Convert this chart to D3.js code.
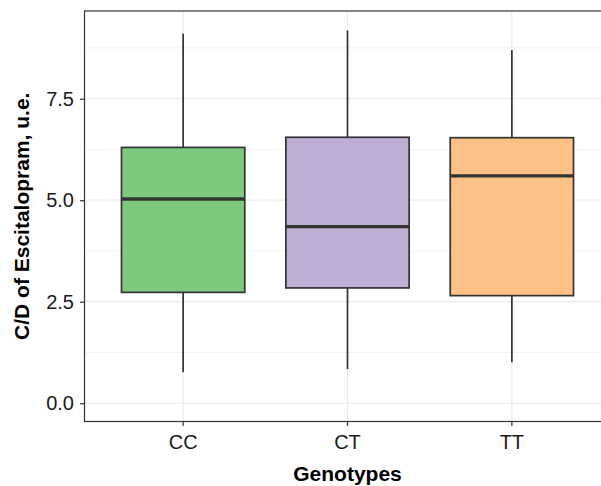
<!DOCTYPE html>
<html>
<head>
<meta charset="utf-8">
<script src="https://cdn.jsdelivr.net/npm/d3@7"></script>
<style>
  body { margin: 0; background: #fff; }
  text { font-family: "Liberation Sans", Arial, Helvetica, sans-serif; }
</style>
</head>
<body>
<div id="chart"></div>
<script>
const width = 601;
const height = 486;

// data
const genotypes = ["CC", "CT", "TT"];
const whiskerLow = [0.76, 0.84, 1.01];
const q1 = [2.73, 2.84, 2.65];
const medians = [5.03, 4.35, 5.6];
const q3 = [6.3, 6.55, 6.54];
const whiskerHigh = [9.1, 9.18, 8.7];
const fills = ["#7FC97F", "#BEAED4", "#FDC086"];
const yTicks = [0, 2.5, 5, 7.5];
const yMinor = [1.25, 3.75, 6.25, 8.75];

const panel = { left: 84.5, top: 11, right: 610.5, bottom: 421.5 };

const boxes = genotypes.map((g, i) => ({
	g,
	lo: whiskerLow[i],
	q1: q1[i],
	med: medians[i],
	q3: q3[i],
	hi: whiskerHigh[i],
	fill: fills[i]
}));

const x = d3
	.scaleBand()
	.domain(genotypes)
	.range([panel.left, panel.right])
	.paddingOuter(0.1)
	.paddingInner(0);

const y = d3
	.scaleLinear()
	.domain([-0.45, 9.66])
	.range([panel.bottom, panel.top]);

const svg = d3
	.select("#chart")
	.append("svg")
	.attr("width", width)
	.attr("height", height);

const cx = (g) => x(g) + x.bandwidth() / 2;
const boxW = x.bandwidth() * 0.75;

// grid
svg.append("g")
	.selectAll("line")
	.data(yMinor)
	.join("line")
	.attr("x1", panel.left)
	.attr("x2", panel.right)
	.attr("y1", (d) => y(d))
	.attr("y2", (d) => y(d))
	.attr("stroke", "#F3F3F3")
	.attr("stroke-width", 1);

svg.append("g")
	.selectAll("line")
	.data(yTicks)
	.join("line")
	.attr("x1", panel.left)
	.attr("x2", panel.right)
	.attr("y1", (d) => y(d))
	.attr("y2", (d) => y(d))
	.attr("stroke", "#EBEBEB")
	.attr("stroke-width", 1.2);

svg.append("g")
	.selectAll("line")
	.data(genotypes)
	.join("line")
	.attr("x1", (d) => cx(d))
	.attr("x2", (d) => cx(d))
	.attr("y1", panel.top)
	.attr("y2", panel.bottom)
	.attr("stroke", "#EBEBEB")
	.attr("stroke-width", 1.2);

// boxes
const bx = svg.append("g").selectAll("g").data(boxes).join("g");

bx.append("line")
	.attr("x1", (d) => cx(d.g))
	.attr("x2", (d) => cx(d.g))
	.attr("y1", (d) => y(d.hi))
	.attr("y2", (d) => y(d.q3))
	.attr("stroke", "#333")
	.attr("stroke-width", 1.7);

bx.append("line")
	.attr("x1", (d) => cx(d.g))
	.attr("x2", (d) => cx(d.g))
	.attr("y1", (d) => y(d.q1))
	.attr("y2", (d) => y(d.lo))
	.attr("stroke", "#333")
	.attr("stroke-width", 1.7);

bx.append("rect")
	.attr("x", (d) => cx(d.g) - boxW / 2)
	.attr("width", boxW)
	.attr("y", (d) => y(d.q3))
	.attr("height", (d) => y(d.q1) - y(d.q3))
	.attr("fill", (d) => d.fill)
	.attr("stroke", "#333")
	.attr("stroke-width", 1.7);

bx.append("line")
	.attr("x1", (d) => cx(d.g) - boxW / 2)
	.attr("x2", (d) => cx(d.g) + boxW / 2)
	.attr("y1", (d) => y(d.med))
	.attr("y2", (d) => y(d.med))
	.attr("stroke", "#333")
	.attr("stroke-width", 3.4);

// panel border
svg.append("rect")
	.attr("x", panel.left)
	.attr("y", panel.top)
	.attr("width", panel.right - panel.left)
	.attr("height", panel.bottom - panel.top)
	.attr("fill", "none")
	.attr("stroke", "#333")
	.attr("stroke-width", 1.2);

// axes
const yAxis = svg
	.append("g")
	.attr("transform", `translate(${panel.left},0)`)
	.call(d3.axisLeft(y).tickValues(yTicks).tickFormat(d3.format(".1f")).tickSize(4.5).tickPadding(6));
yAxis.select(".domain").remove();
yAxis.selectAll("line").attr("stroke", "#333").attr("stroke-width", 1.2);
yAxis.selectAll("text").attr("font-size", 20).attr("fill", "#1a1a1a").attr("font-family", null);

const xAxis = svg
	.append("g")
	.attr("transform", `translate(0,${panel.bottom})`)
	.call(d3.axisBottom(x).tickSize(4.5).tickPadding(9));
xAxis.select(".domain").remove();
xAxis.selectAll("line").attr("stroke", "#333").attr("stroke-width", 1.2);
xAxis.selectAll("text").attr("font-size", 20).attr("fill", "#1a1a1a").attr("font-family", null);

// titles
svg.append("text")
	.attr("x", (panel.left + panel.right) / 2)
	.attr("y", 481)
	.attr("text-anchor", "middle")
	.attr("font-weight", "bold")
	.attr("font-size", 21)
	.text("Genotypes");

svg.append("text")
	.attr("transform", `translate(29,${(panel.top + panel.bottom) / 2}) rotate(-90)`)
	.attr("text-anchor", "middle")
	.attr("font-weight", "bold")
	.attr("font-size", 21)
	.text("C/D of Escitalopram, u.e.");
</script>
</body>
</html>
